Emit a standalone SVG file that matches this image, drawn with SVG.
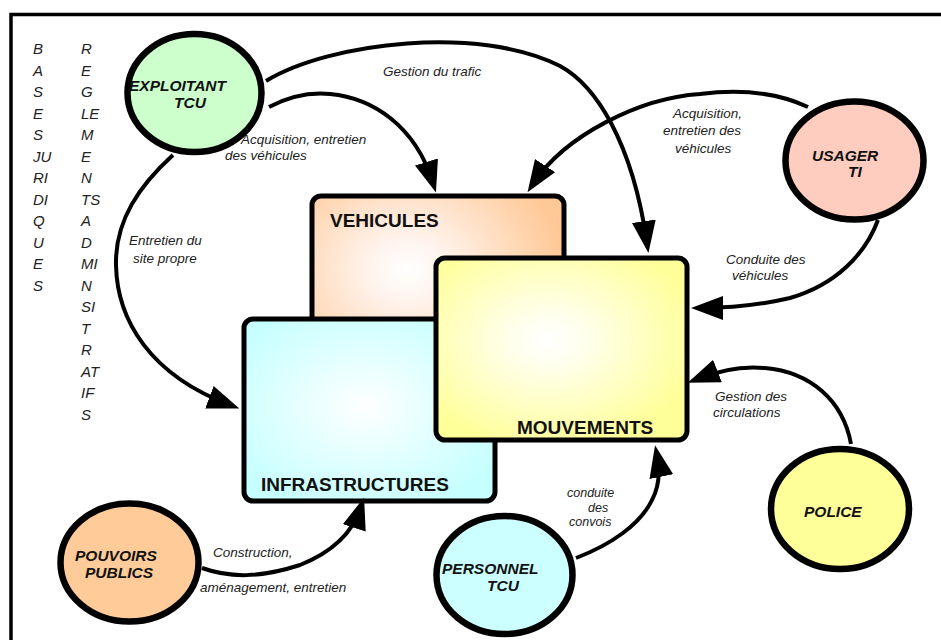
<svg xmlns="http://www.w3.org/2000/svg" width="941" height="640" viewBox="0 0 941 640">
<style>
  .frame{stroke:#000;stroke-width:3.5;fill:none}
  .col{font-family:"Liberation Sans",Arial,sans-serif;font-style:italic;font-size:15px;fill:#222}
  .box{stroke:#000;stroke-width:5}
  .boxlbl{font-family:"Liberation Sans",Arial,sans-serif;font-weight:bold;font-size:19px;fill:#111}
  .ell{stroke:#000;stroke-width:6.5}
  .nlbl{font-family:"Liberation Sans",Arial,sans-serif;font-weight:bold;font-style:italic;font-size:15.5px;fill:#111}
  .conn{stroke:#000;stroke-width:4;fill:none;marker-end:url(#ah)}
  .clbl{font-family:"Liberation Sans",Arial,sans-serif;font-style:italic;font-size:13.5px;fill:#222}
  .small{font-size:12.5px}
</style>
<defs>
  <marker id="ah" viewBox="0 0 32 24" refX="22" refY="12" markerWidth="32" markerHeight="24" markerUnits="userSpaceOnUse" orient="auto">
    <path d="M0,0 L32,12 L0,24 z" fill="#000"/>
  </marker>
  <radialGradient id="gVeh" cx="0.38" cy="0.35" r="0.62">
    <stop offset="0" stop-color="#ffffff"/>
    <stop offset="0.25" stop-color="#fff3ec"/>
    <stop offset="1" stop-color="#ffc896"/>
  </radialGradient>
  <radialGradient id="gInf" cx="0.48" cy="0.48" r="0.6">
    <stop offset="0" stop-color="#ffffff"/>
    <stop offset="0.25" stop-color="#f0ffff"/>
    <stop offset="1" stop-color="#c6ffff"/>
  </radialGradient>
  <radialGradient id="gMouv" cx="0.45" cy="0.45" r="0.6">
    <stop offset="0" stop-color="#ffffff"/>
    <stop offset="0.25" stop-color="#ffffec"/>
    <stop offset="1" stop-color="#ffff99"/>
  </radialGradient>
</defs>
<rect x="0" y="0" width="941" height="640" fill="#fff"/>
<g id="frame">
  <path class="frame" d="M11,640 L11,14.5 L941,14.5"/>
</g>
<g id="bases-juridiques" class="col">
  <text x="33" y="54">B</text>
  <text x="33" y="75.5">A</text>
  <text x="33" y="97">S</text>
  <text x="33" y="118.5">E</text>
  <text x="33" y="140">S</text>
  <text x="33" y="161.5">JU</text>
  <text x="33" y="183">RI</text>
  <text x="33" y="204.5">DI</text>
  <text x="33" y="226">Q</text>
  <text x="33" y="247.5">U</text>
  <text x="33" y="269">E</text>
  <text x="33" y="290.5">S</text>
</g>
<g id="reglements-administratifs" class="col">
  <text x="81" y="54">R</text>
  <text x="81" y="75.5">E</text>
  <text x="81" y="97">G</text>
  <text x="81" y="118.5">LE</text>
  <text x="81" y="140">M</text>
  <text x="81" y="161.5">E</text>
  <text x="81" y="183">N</text>
  <text x="81" y="204.5">TS</text>
  <text x="81" y="226">A</text>
  <text x="81" y="247.5">D</text>
  <text x="81" y="269">MI</text>
  <text x="81" y="290.5">N</text>
  <text x="81" y="312">SI</text>
  <text x="81" y="333.5">T</text>
  <text x="81" y="355">R</text>
  <text x="81" y="376.5">AT</text>
  <text x="81" y="398">IF</text>
  <text x="81" y="419.5">S</text>
</g>
<g id="vehicules">
  <rect class="box" x="312" y="196" width="252" height="210" rx="9" fill="url(#gVeh)"/>
  <text class="boxlbl" x="330" y="227">VEHICULES</text>
</g>
<g id="infrastructures">
  <rect class="box" x="244" y="319" width="251" height="182" rx="9" fill="url(#gInf)"/>
  <text class="boxlbl" x="261" y="491">INFRASTRUCTURES</text>
</g>
<g id="mouvements">
  <rect class="box" x="436" y="258" width="251" height="182" rx="9" fill="url(#gMouv)"/>
  <text class="boxlbl" x="517" y="434">MOUVEMENTS</text>
</g>
<g id="connectors">
  <path class="conn" d="M269,107 C290,96 310,92 330,94 C372,98 415,125 433,183"/>
  <path class="conn" d="M266,81 C330,42 480,25 560,66 C595,85 632,140 647,243"/>
  <path class="conn" d="M808,107 C780,94 745,88 700,94 C640,98 565,135 533,184"/>
  <path class="conn" d="M878,220 C865,255 835,285 790,298 C760,305 730,308 701,308"/>
  <path class="conn" d="M851,444 C843,400 810,372 765,368 C745,366 720,370 697,379"/>
  <path class="conn" d="M576,558 C610,545 640,525 652,500 C660,485 660,470 657,455"/>
  <path class="conn" d="M202,568 C230,578 260,578 300,565 C330,553 352,535 361,507"/>
  <path class="conn" d="M173,155 C140,185 115,220 116,265 C117,320 150,375 230,405"/>
  <text class="clbl" x="241" y="144">Acquisition, entretien</text>
  <text class="clbl" x="225" y="160">des véhicules</text>
  <text class="clbl" x="383" y="76">Gestion du trafic</text>
  <text class="clbl" x="673" y="118">Acquisition,</text>
  <text class="clbl" x="663" y="135">entretien des</text>
  <text class="clbl" x="675" y="153">véhicules</text>
  <text class="clbl" x="726" y="264">Conduite des</text>
  <text class="clbl" x="732" y="280">véhicules</text>
  <text class="clbl" x="715" y="401">Gestion des</text>
  <text class="clbl" x="713" y="417">circulations</text>
  <text class="clbl small" x="567" y="497">conduite</text>
  <text class="clbl small" x="588" y="512">des</text>
  <text class="clbl small" x="569" y="526">convois</text>
  <text class="clbl" x="213" y="557">Construction,</text>
  <text class="clbl" x="200" y="592">aménagement, entretien</text>
  <text class="clbl" x="129" y="245">Entretien du</text>
  <text class="clbl" x="133" y="263">site propre</text>
</g>
<g id="exploitant-tcu">
  <ellipse class="ell" cx="194.5" cy="93" rx="67" ry="59" fill="#ccffcc"/>
  <text class="nlbl" x="129" y="91">EXPLOITANT</text>
  <text class="nlbl" x="174" y="108">TCU</text>
</g>
<g id="usager-ti">
  <ellipse class="ell" cx="854.5" cy="160.5" rx="69" ry="59" fill="#ffccc0"/>
  <text class="nlbl" x="812" y="161">USAGER</text>
  <text class="nlbl" x="848" y="177">TI</text>
</g>
<g id="police">
  <ellipse class="ell" cx="840" cy="509" rx="69" ry="60" fill="#ffff99"/>
  <text class="nlbl" x="804" y="517">POLICE</text>
</g>
<g id="pouvoirs-publics">
  <ellipse class="ell" cx="129.5" cy="562.5" rx="69" ry="59" fill="#ffcc99"/>
  <text class="nlbl" x="75" y="561">POUVOIRS</text>
  <text class="nlbl" x="85" y="578">PUBLICS</text>
</g>
<g id="personnel-tcu">
  <ellipse class="ell" cx="504.5" cy="575" rx="68" ry="59" fill="#ccffff"/>
  <text class="nlbl" x="442" y="574">PERSONNEL</text>
  <text class="nlbl" x="487" y="591">TCU</text>
</g>
</svg>
